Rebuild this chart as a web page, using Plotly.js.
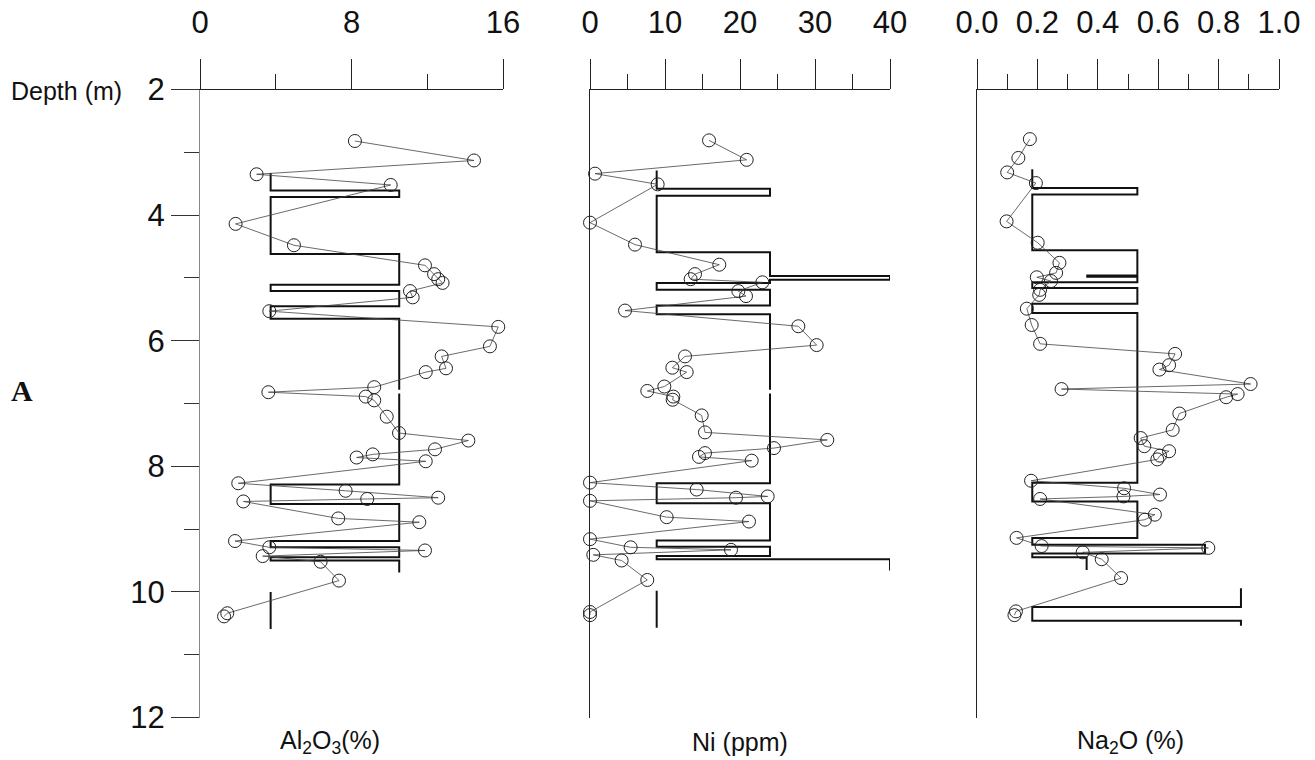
<!DOCTYPE html>
<html>
<head>
<meta charset="utf-8">
<script src="https://cdn.plot.ly/plotly-3.0.1.min.js"></script>
<style>html,body{margin:0;padding:0;background:#fff;}#chart{width:1315px;height:760px;}</style>
</head>
<body>
<div id="chart"></div>
<script>
// ---- Al2O3 (%) samples ----
const alDepth = [2.82,3.13,3.35,3.52,4.14,4.48,4.80,4.94,5.02,5.08,5.21,5.31,5.53,5.78,6.09,6.25,6.44,6.50,6.74,6.82,6.89,6.95,7.21,7.47,7.59,7.73,7.81,7.86,7.92,8.27,8.39,8.50,8.52,8.56,8.83,8.89,9.19,9.29,9.34,9.43,9.52,9.82,10.34,10.39];
const alValue = [8.18,14.47,2.99,10.07,1.88,4.96,11.88,12.36,12.58,12.81,11.09,11.23,3.66,15.75,15.31,12.76,12.99,11.92,9.20,3.61,8.75,9.20,9.86,10.51,14.17,12.41,9.12,8.27,11.92,2.02,7.69,12.58,8.83,2.29,7.30,11.58,1.85,3.66,11.88,3.31,6.37,7.34,1.44,1.27];

// ---- Ni (ppm) samples ----
const niDepth = [2.81,3.12,3.34,3.51,4.12,4.47,4.79,4.94,5.02,5.07,5.21,5.29,5.52,5.77,6.07,6.25,6.43,6.50,6.73,6.80,6.89,6.94,7.19,7.46,7.58,7.71,7.79,7.85,7.91,8.26,8.37,8.48,8.50,8.55,8.81,8.88,9.16,9.29,9.33,9.41,9.50,9.81,10.32,10.37];
const niValue = [15.87,20.89,0.67,9.02,0.0,6.0,17.24,14.0,13.42,22.98,19.78,20.8,4.67,27.78,30.22,12.67,10.98,12.89,9.91,7.64,11.11,11.02,14.89,15.33,31.64,24.53,15.33,14.53,21.56,0.0,14.22,23.69,19.47,0.0,10.22,21.2,0.0,5.42,18.8,0.44,4.22,7.64,0.0,0.0];

// ---- Na2O (%) samples ----
const naDepth = [2.79,3.09,3.32,3.49,4.10,4.44,4.76,4.92,4.99,5.05,5.19,5.27,5.49,5.75,6.05,6.21,6.39,6.46,6.69,6.77,6.85,6.90,7.16,7.42,7.55,7.68,7.76,7.83,7.89,8.23,8.35,8.45,8.48,8.52,8.77,8.85,9.14,9.27,9.30,9.37,9.48,9.78,10.31,10.37];
const naValue = [0.175,0.137,0.100,0.195,0.098,0.201,0.273,0.262,0.198,0.245,0.209,0.206,0.165,0.181,0.209,0.656,0.636,0.604,0.906,0.280,0.863,0.825,0.670,0.648,0.542,0.554,0.636,0.606,0.597,0.179,0.487,0.606,0.485,0.209,0.589,0.556,0.131,0.214,0.766,0.350,0.413,0.477,0.129,0.124];

// ---- Stepped column outlines (value, depth); null = break ----
const alColX = [3.73,3.73,10.52,10.52,3.73,3.73,10.52,10.52,3.73,3.73,10.52,10.52,3.73,3.73,10.52,10.52,null,10.52,10.52,3.73,3.73,10.52,10.52,3.73,3.73,10.52,10.52,3.73,3.73,10.52,10.52,null,3.73,3.73];
const alColD = [3.33,3.61,3.61,3.71,3.71,4.62,4.62,5.11,5.11,5.21,5.21,5.45,5.45,5.65,5.65,6.78,null,6.84,8.29,8.29,8.60,8.60,9.19,9.19,9.29,9.29,9.45,9.45,9.50,9.50,9.69,null,10.00,10.59];

const niColX = [8.89,8.89,24,24,8.89,8.89,24,24,40,40,24,24,8.89,8.89,24,24,8.89,8.89,24,24,null,24,24,8.89,8.89,24,24,8.89,8.89,24,24,8.89,8.89,40,40,null,8.89,8.89];
const niColD = [3.29,3.58,3.58,3.69,3.69,4.59,4.59,4.97,4.97,5.03,5.03,5.08,5.08,5.19,5.19,5.44,5.44,5.58,5.58,6.78,null,6.84,8.27,8.27,8.59,8.59,9.18,9.18,9.28,9.28,9.43,9.43,9.48,9.48,9.66,null,9.98,10.57];

const naColX = [0.183,0.183,0.531,0.531,0.183,0.183,0.531,0.531,0.365,0.365,0.531,0.531,0.183,0.183,0.531,0.531,0.183,0.183,0.531,0.531,0.183,0.183,0.531,0.531,0.183,0.183,0.755,0.755,0.183,0.183,0.363,0.363,null,0.874,0.874,0.183,0.183,0.874,0.874];
const naColD = [3.27,3.57,3.57,3.67,3.67,4.56,4.56,4.96,4.96,4.98,4.98,5.07,5.07,5.16,5.16,5.41,5.41,5.56,5.56,8.26,8.26,8.56,8.56,9.14,9.14,9.25,9.25,9.39,9.39,9.45,9.45,9.65,null,9.94,10.24,10.24,10.46,10.46,10.54];

// ---- Labels ----
const depthLabel = "Depth (m)";
const panelTitles = ["Al<sub>2</sub>O<sub>3</sub>(%)", "Ni (ppm)", "Na<sub>2</sub>O (%)"];
const sideLabel = "A";

const W = 1315, H = 760;
const FONT = "Liberation Sans, Arial, Helvetica, sans-serif";
const px = v => v / W;
const py = v => 1 - v / H;

function colTrace(x, y, xa, ya) {
  return {x: x, y: y, xaxis: xa, yaxis: ya, type: 'scatter', mode: 'lines',
    line: {color: '#111', width: 2}, connectgaps: false, hoverinfo: 'skip', cliponaxis: false};
}
function ptTrace(x, y, xa, ya) {
  return {x: x, y: y, xaxis: xa, yaxis: ya, type: 'scatter', mode: 'lines+markers',
    line: {color: '#444', width: 0.8},
    marker: {symbol: 'circle-open', size: 13, color: '#222', line: {width: 1}},
    cliponaxis: false};
}

const data = [
  colTrace(alColX, alColD, 'x', 'y'),
  ptTrace(alValue, alDepth, 'x', 'y'),
  colTrace(niColX, niColD, 'x2', 'y2'),
  ptTrace(niValue, niDepth, 'x2', 'y2'),
  colTrace(naColX, naColD, 'x3', 'y3'),
  ptTrace(naValue, naDepth, 'x3', 'y3')
];

const yDom = [py(717.5), py(89.5)];
function topAxis(dom, range, dtick, minorD, anchor, fmt) {
  const a = {domain: dom, range: range, side: 'top', anchor: anchor,
    showline: true, linecolor: '#222', linewidth: 1,
    ticks: 'outside', ticklen: 30, tickwidth: 1, tickcolor: '#222',
    tick0: 0, dtick: dtick,
    minor: {ticks: 'outside', dtick: minorD, ticklen: 15, tickwidth: 1, tickcolor: '#222', showgrid: false},
    showgrid: false, zeroline: false,
    ticklabelstandoff: 13,
    tickfont: {family: FONT, size: 31, color: '#111'}};
  if (fmt) a.tickformat = fmt;
  return a;
}

const layout = {
  width: W, height: H,
  margin: {l: 0, r: 0, t: 0, b: 0},
  paper_bgcolor: '#fff', plot_bgcolor: 'rgba(0,0,0,0)',
  showlegend: false,
  xaxis: topAxis([px(200), px(503)], [0, 16], 8, 4, 'y'),
  xaxis2: topAxis([px(590), px(890)], [0, 40], 10, 5, 'y2'),
  xaxis3: topAxis([px(977), px(1279)], [0, 1], 0.2, 0.1, 'y3', '.1f'),
  yaxis: {domain: yDom, range: [12, 2], anchor: 'x',
    showline: true, linecolor: '#888', linewidth: 1,
    ticks: 'outside', ticklen: 28, tickwidth: 1, tickcolor: '#333',
    tick0: 2, dtick: 2,
    minor: {ticks: 'outside', dtick: 1, ticklen: 15, tickwidth: 1, tickcolor: '#333', showgrid: false},
    showgrid: false, zeroline: false,
    tickfont: {family: FONT, size: 31, color: '#111'}},
  yaxis2: {domain: yDom, range: [12, 2], anchor: 'x2', showline: true, linecolor: '#222', linewidth: 1,
    ticks: '', showticklabels: false, showgrid: false, zeroline: false},
  yaxis3: {domain: yDom, range: [12, 2], anchor: 'x3', showline: true, linecolor: '#222', linewidth: 1,
    ticks: '', showticklabels: false, showgrid: false, zeroline: false},
  annotations: [
    {text: depthLabel, xref: 'paper', yref: 'paper', x: px(9), y: py(91), xanchor: 'left', yanchor: 'middle',
      showarrow: false, font: {family: FONT, size: 25, color: '#111'}},
    {text: '<b>' + sideLabel + '</b>', xref: 'paper', yref: 'paper', x: px(22), y: py(390), xanchor: 'center', yanchor: 'middle',
      showarrow: false, font: {family: 'Liberation Serif, Times New Roman, serif', size: 30, color: '#111'}},
    {text: panelTitles[0], xref: 'paper', yref: 'paper', x: px(330), y: py(742), xanchor: 'center', yanchor: 'middle',
      showarrow: false, font: {family: FONT, size: 25, color: '#111'}},
    {text: panelTitles[1], xref: 'paper', yref: 'paper', x: px(740), y: py(742), xanchor: 'center', yanchor: 'middle',
      showarrow: false, font: {family: FONT, size: 25, color: '#111'}},
    {text: panelTitles[2], xref: 'paper', yref: 'paper', x: px(1130), y: py(742), xanchor: 'center', yanchor: 'middle',
      showarrow: false, font: {family: FONT, size: 25, color: '#111'}}
  ]
};

Plotly.newPlot('chart', data, layout, {staticPlot: true, displayModeBar: false});
</script>
</body>
</html>
